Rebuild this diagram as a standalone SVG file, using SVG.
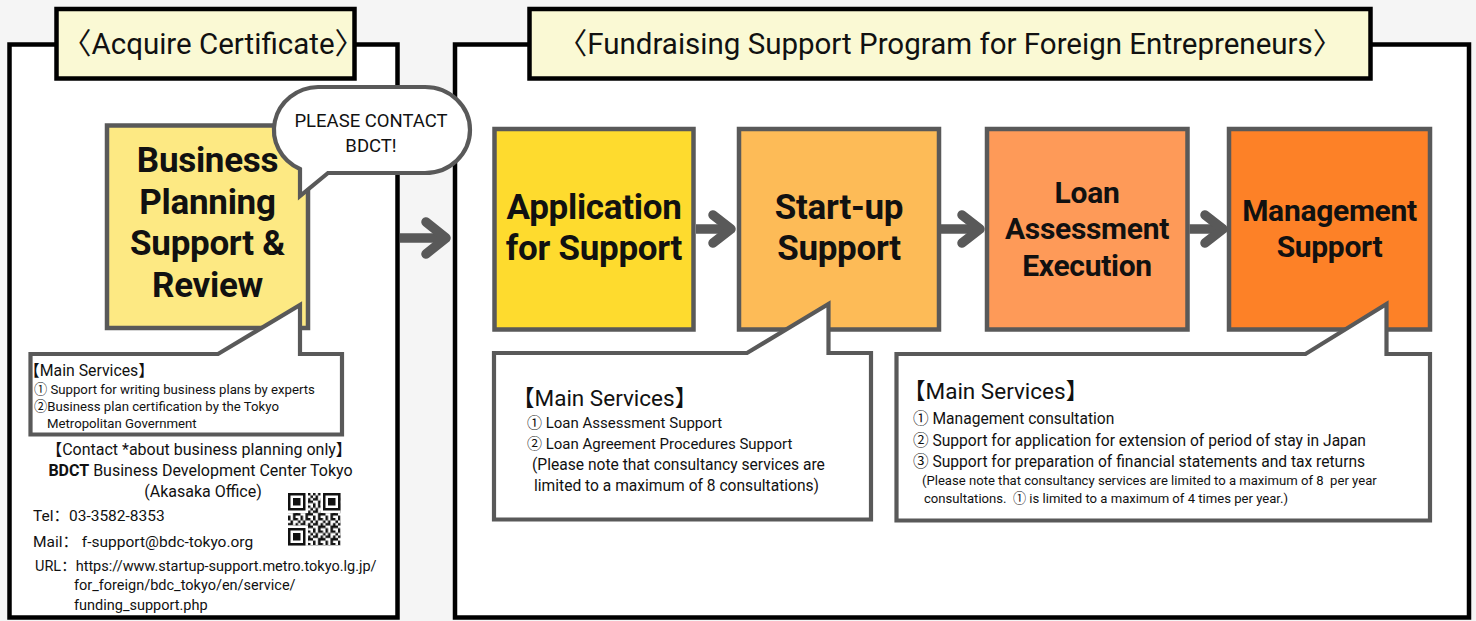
<svg xmlns="http://www.w3.org/2000/svg" width="1476" height="621" viewBox="0 0 1476 621">
<defs>
<style>
text{font-family:Roboto,"Noto Sans CJK JP",sans-serif;fill:#111}
.sc{font-family:Roboto,"Noto Sans CJK SC",sans-serif}
.panel{fill:#fff;stroke:#000;stroke-width:4.5}
.hdr{fill:#faf9d4;stroke:#000;stroke-width:4.5}
.box{stroke:#595959;stroke-width:4.5}
.call{fill:#fff;stroke:#595959;stroke-width:4.2;stroke-linejoin:miter}
.shaft{fill:none;stroke:#595959;stroke-width:9.5}
.head{fill:none;stroke:#595959;stroke-width:9.5;stroke-linecap:round;stroke-linejoin:round}
.ht{font-size:29.5px}
.bt{font-size:35px;font-weight:700;letter-spacing:-0.3px;text-anchor:middle}
.bt2{font-size:30px;font-weight:700;letter-spacing:-0.3px;text-anchor:middle}
</style>
<pattern id="qrp" x="288" y="493" width="12.5" height="12.5" patternUnits="userSpaceOnUse">
<path fill="#111" d="M0 0h2.5v2.5h-2.5z M5 0h5v2.5h-5z M2.5 2.5h2.5v2.5h-2.5z M10 2.5h2.5v2.5h-2.5z M0 5h5v2.5h-5z M7.5 5h2.5v2.5h-2.5z M5 7.5h7.5v2.5h-7.5z M0 10h2.5v2.5h-2.5z M5 10h2.5v2.5h-2.5z"/>
</pattern>
<g id="finder">
<rect x="0" y="0" width="17.5" height="17.5" fill="#111"/>
<rect x="2.5" y="2.5" width="12.5" height="12.5" fill="#fff"/>
<rect x="5" y="5" width="7.5" height="7.5" fill="#111"/>
</g>
</defs>
<rect x="0" y="0" width="1476" height="621" fill="#f5f5f5"/>

<g id="panel-left">
<rect class="panel" x="9.5" y="44.5" width="388" height="573"/>
</g>
<g id="panel-right">
<rect class="panel" x="455" y="44.5" width="1014" height="573"/>
</g>

<g id="header-left">
<rect class="hdr" x="56.5" y="9" width="298" height="69.5"/>
<text class="ht" x="213" y="53.5" text-anchor="middle">〈Acquire Certificate〉</text>
</g>
<g id="header-right">
<rect class="hdr" x="529.5" y="9" width="841" height="69.5"/>
<text class="ht" x="950" y="53.5" text-anchor="middle">〈Fundraising Support Program for Foreign Entrepreneurs〉</text>
</g>

<g id="business-planning">
<rect class="box" x="107" y="125.5" width="201" height="202.5" fill="#fde983"/>
<text class="bt" x="207.5" y="172">Business</text>
<text class="bt" x="207.5" y="213.5">Planning</text>
<text class="bt" x="207.5" y="255">Support &amp;</text>
<text class="bt" x="207.5" y="297">Review</text>
</g>

<g id="application">
<rect class="box" x="494.5" y="129" width="199" height="200.5" fill="#fedb2e"/>
<text class="bt" x="594" y="218.5">Application</text>
<text class="bt" x="594" y="260">for Support</text>
</g>
<g id="startup">
<rect class="box" x="739" y="129" width="200" height="200.5" fill="#fdbb57"/>
<text class="bt" x="839" y="218.5">Start-up</text>
<text class="bt" x="839" y="260">Support</text>
</g>
<g id="loan">
<rect class="box" x="987" y="129" width="200.5" height="200.5" fill="#fe9a58"/>
<text class="bt2" x="1087" y="202.5">Loan</text>
<text class="bt2" x="1087" y="239">Assessment</text>
<text class="bt2" x="1087" y="275.5">Execution</text>
</g>
<g id="management">
<rect class="box" x="1229" y="129" width="201" height="200.5" fill="#fd8127"/>
<text class="bt2" x="1329.5" y="221">Management</text>
<text class="bt2" x="1329.5" y="256.5">Support</text>
</g>

<g id="connectors">
<path class="shaft" d="M400 238H443"/>
<path class="head" d="M426 222L446 238L426 254"/>
<path class="shaft" d="M696 229H728"/>
<path class="head" d="M713 215L731 229L713 243"/>
<path class="shaft" d="M941 229H976"/>
<path class="head" d="M962 215L980 229L962 243"/>
<path class="shaft" d="M1189.5 229H1220"/>
<path class="head" d="M1205 215L1223 229L1205 243"/>
</g>

<g id="bubble-contact">
<path class="call" d="M318 87H425A45 43 0 0 1 425 173H328L300 196L300 169A45 43 0 0 1 318 87Z"/>
<text x="371" y="126.5" font-size="18.5" text-anchor="middle">PLEASE CONTACT</text>
<text x="371" y="151.5" font-size="18.5" text-anchor="middle">BDCT!</text>
</g>

<g id="callout-business">
<path class="call" d="M30.5 354H218L300 305V354H342V434.5H30.5Z"/>
<text x="24" y="375.5" font-size="15.8">【Main Services】</text>
<text x="34" y="394" font-size="13.2">① Support for writing business plans by experts</text>
<text x="34" y="411" font-size="13.2">②Business plan certification by the Tokyo</text>
<text x="47" y="428" font-size="13.2">Metropolitan Government</text>
</g>

<g id="contact-info">
<text x="199" y="455" font-size="16" text-anchor="middle">【Contact *about business planning only】</text>
<text x="200.5" y="475.5" font-size="16" text-anchor="middle"><tspan font-weight="700">BDCT</tspan> Business Development Center Tokyo</text>
<text x="203" y="497" font-size="16" text-anchor="middle">(Akasaka Office)</text>
<text class="sc" x="33" y="520.5" font-size="15.5">Tel：03-3582-8353</text>
<text class="sc" x="33" y="547" font-size="15.5">Mail： f-support@bdc-tokyo.org</text>
<text class="sc" x="35" y="570.5" font-size="14.5">URL：https://www.startup-support.metro.tokyo.lg.jp/</text>
<text x="74" y="590" font-size="14.5">for_foreign/bdc_tokyo/en/service/</text>
<text x="74" y="609.5" font-size="14.5">funding_support.php</text>
<g id="qr">
<rect x="288" y="493" width="52.5" height="52.5" fill="url(#qrp)"/>
<rect x="288" y="493" width="20" height="20" fill="#fff"/>
<rect x="320.5" y="493" width="20" height="20" fill="#fff"/>
<rect x="288" y="525.5" width="20" height="20" fill="#fff"/>
<use href="#finder" x="288" y="493"/>
<use href="#finder" x="323" y="493"/>
<use href="#finder" x="288" y="528"/>
</g>
</g>

<g id="callout-startup">
<path class="call" d="M494 353H747L828.5 304V353H871V519.5H494Z"/>
<text x="512" y="406" font-size="22.5">【Main Services】</text>
<text x="527" y="428" font-size="15">① Loan Assessment Support</text>
<text x="527" y="448.5" font-size="15">② Loan Agreement Procedures Support</text>
<text x="532" y="469.5" font-size="15.6">(Please note that consultancy services are</text>
<text x="534" y="490.5" font-size="15.6">limited to a maximum of 8 consultations)</text>
</g>

<g id="callout-management">
<path class="call" d="M896.5 354H1305.5L1386.5 304V354H1430V520.5H896.5Z"/>
<text x="903" y="398.5" font-size="22.5">【Main Services】</text>
<text x="913" y="423.5" font-size="15.6">① Management consultation</text>
<text x="913" y="446" font-size="15.6">② Support for application for extension of period of stay in Japan</text>
<text x="913" y="467" font-size="15.6">③ Support for preparation of financial statements and tax returns</text>
<text x="922" y="485" font-size="13.1">(Please note that consultancy services are limited to a maximum of 8&#160; per year</text>
<text x="924" y="502.5" font-size="13.1">consultations.&#160; ① is limited to a maximum of 4 times per year.)</text>
</g>
</svg>
